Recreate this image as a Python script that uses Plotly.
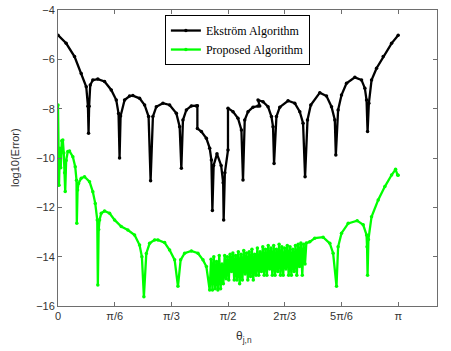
import numpy as np
import plotly.graph_objects as go

# theta_j,n given as a fraction of pi, log10 error
ekstrom_t = [0.0, 0.024, 0.0486, 0.0683, 0.083, 0.088, 0.0898, 0.0915, 0.0948, 0.1024,
             0.1171, 0.1368, 0.1566, 0.1713, 0.178, 0.181, 0.184, 0.1957, 0.2104, 0.2201,
             0.2398, 0.2546, 0.2663, 0.2722, 0.279, 0.289, 0.3084, 0.3281, 0.3479, 0.3576,
             0.3626, 0.3673, 0.3773, 0.392, 0.4067, 0.4097, 0.4097, 0.4214, 0.4361, 0.4459,
             0.4509, 0.4538, 0.4575, 0.4673, 0.4795, 0.4855, 0.487, 0.4905, 0.4997, 0.4997,
             0.5144, 0.5291, 0.5391, 0.5438, 0.5489, 0.5586, 0.5733, 0.588, 0.593, 0.588,
             0.6027, 0.6174, 0.6274, 0.6321, 0.6351, 0.6421, 0.6519, 0.6763, 0.696, 0.7107,
             0.7204, 0.7263, 0.7334, 0.7431, 0.7696, 0.7893, 0.804, 0.8137, 0.8167, 0.8234,
             0.8334, 0.8481, 0.8726, 0.8923, 0.902, 0.907, 0.91, 0.9138, 0.9217, 0.9364,
             0.9559, 0.9806, 1.0]
ekstrom_err = [-5.02, -5.35, -5.89, -6.57, -7.11, -7.9, -9.0, -7.9, -7.04, -6.84,
               -6.80, -6.90, -7.24, -7.65, -8.2, -10.0, -8.3, -7.65, -7.49, -7.47,
               -7.58, -7.85, -8.32, -10.92, -8.32, -7.92, -7.78, -7.85, -8.19, -8.73,
               -10.42, -8.46, -8.05, -7.89, -7.89, -7.88, -8.8, -8.93, -9.2, -9.6,
               -10.08, -12.13, -10.3, -9.83, -10.3, -11.0, -12.51, -10.6, -9.68, -7.98,
               -8.12, -8.39, -8.86, -10.89, -8.46, -8.12, -7.94, -7.89, -7.89, -7.65,
               -7.72, -7.92, -8.32, -8.73, -10.22, -8.32, -7.94, -7.68, -7.78, -8.12,
               -8.59, -10.76, -8.46, -7.85, -7.35, -7.49, -7.92, -8.46, -9.88, -8.05,
               -7.45, -6.97, -6.73, -6.84, -7.17, -7.65, -8.93, -7.78, -6.84, -6.36,
               -5.89, -5.35, -5.02]

proposed_t = [0.0, 0.0015, 0.003, 0.0055, 0.008, 0.0112, 0.0141, 0.017, 0.0195, 0.0212,
              0.024, 0.0288, 0.0338, 0.0436, 0.0506, 0.0544, 0.0553, 0.0575, 0.0603, 0.0683,
              0.078, 0.0927, 0.1024, 0.1095, 0.1154, 0.1171, 0.1195, 0.1221, 0.1271, 0.1368,
              0.1516, 0.1663, 0.186, 0.2054, 0.2251, 0.2398, 0.2466, 0.2525, 0.2596, 0.2693,
              0.284, 0.2937, 0.3134, 0.3281, 0.3429, 0.3526, 0.3605, 0.3723, 0.392, 0.4114,
              0.4261, 0.4361, 0.4459,
              0.450, 0.454, 0.458, 0.462, 0.466, 0.470, 0.474, 0.478, 0.482, 0.486,
              0.490, 0.494, 0.498, 0.502, 0.506, 0.510, 0.514, 0.518, 0.522, 0.526,
              0.530, 0.534, 0.538, 0.542, 0.546, 0.550, 0.554, 0.558, 0.562, 0.566,
              0.570, 0.574, 0.578, 0.582, 0.586, 0.590, 0.594, 0.598, 0.602, 0.606,
              0.610, 0.614, 0.618, 0.622, 0.626, 0.630, 0.634, 0.638, 0.642, 0.646,
              0.650, 0.654, 0.658, 0.662, 0.666, 0.670, 0.674, 0.678, 0.682, 0.686,
              0.690, 0.694, 0.698, 0.702, 0.706, 0.710, 0.714, 0.718, 0.722, 0.726,
              0.730,
              0.7401, 0.7548, 0.7793, 0.799, 0.8087, 0.8187, 0.8234, 0.8334, 0.853, 0.8794,
              0.8971, 0.907, 0.9085, 0.91, 0.9125, 0.9217, 0.9412, 0.9608, 0.9806, 0.9923,
              0.9982, 1.0]
proposed_err = [-7.85, -10.2, -11.1, -9.6, -10.4, -9.3, -9.27, -9.8, -10.6, -11.36,
                -10.1, -9.74, -9.72, -9.95, -10.35, -10.9, -12.65, -11.3, -11.03, -10.82,
                -10.76, -10.96, -11.37, -11.84, -12.51, -15.15, -12.9, -12.51, -12.24, -12.15,
                -12.24, -12.51, -12.78, -12.92, -13.12, -13.53, -14.0, -15.62, -13.87, -13.46,
                -13.32, -13.32, -13.43, -13.73, -14.13, -15.2, -14.13, -13.86, -13.77, -13.86,
                -14.13, -14.4, -15.35,
                -14.1, -15.35, -14.0, -15.3, -14.2, -15.35, -13.95, -15.3, -14.3, -15.1,
                -13.95, -14.9, -14.0, -14.95, -13.9, -14.6, -13.85, -14.95, -13.95, -14.95,
                -13.8, -15.1, -13.9, -14.95, -13.75, -14.7, -13.85, -14.95, -13.8, -14.8,
                -13.7, -14.95, -13.9, -14.75, -13.65, -14.75, -13.8, -14.6, -13.6, -14.75,
                -13.7, -14.75, -13.55, -14.5, -13.65, -14.75, -13.55, -14.75, -13.7, -14.6,
                -13.5, -14.75, -13.6, -14.75, -13.65, -14.5, -13.55, -14.75, -13.6, -14.75,
                -13.7, -14.6, -13.55, -14.75, -13.5, -14.4, -13.45, -14.75, -13.5, -14.3,
                -13.45,
                -13.4, -13.25, -13.21, -13.46, -13.86, -15.2, -13.6, -13.05, -12.65, -12.54,
                -12.71, -13.12, -13.6, -14.75, -13.3, -12.38, -11.70, -11.16, -10.69, -10.46,
                -10.69, -10.7]

tick_labels = ['0', 'π/6', 'π/3', 'π/2', '2π/3', '5π/6', 'π']
tick_frac = [0, 1/6, 1/3, 1/2, 2/3, 5/6, 1]

fig = go.Figure()
fig.add_trace(go.Scatter(x=np.array(ekstrom_t)*np.pi, y=ekstrom_err, mode='lines+markers',
                         name='Ekström Algorithm',
                         line=dict(color='black', width=2.3),
                         marker=dict(color='black', size=3.5)))
fig.add_trace(go.Scatter(x=np.array(proposed_t)*np.pi, y=proposed_err, mode='lines+markers',
                         name='Proposed Algorithm',
                         line=dict(color='#00ff00', width=2.3),
                         marker=dict(color='#00ff00', size=3.5)))

axis_style = dict(showline=True, mirror='ticks', linecolor='#6e6e6e', linewidth=1,
                  ticks='inside', ticklen=4, tickcolor='#6e6e6e', showgrid=False,
                  zeroline=False, automargin=False,
                  tickfont=dict(family='Liberation Sans', size=11, color='#333'))

fig.update_xaxes(range=[0, 3.5], tickvals=np.array(tick_frac)*np.pi, ticktext=tick_labels,
                 **axis_style)
fig.update_yaxes(range=[-16, -4], tickvals=[-16, -14, -12, -10, -8, -6, -4], **axis_style)

# axis titles placed by hand (MATLAB-like spacing)
fig.add_annotation(text='log10(Error)', xref='paper', yref='paper', x=0, y=0.5,
                   xanchor='center', yanchor='middle', xshift=-43, textangle=-90,
                   showarrow=False, font=dict(family='Liberation Sans', size=11, color='#333'))
fig.add_annotation(text='θ<sub>j,n</sub>', xref='paper', yref='paper', x=0.49, y=0,
                   xanchor='center', yanchor='middle', yshift=-31,
                   showarrow=False, font=dict(family='Liberation Sans', size=12, color='#333'))

fig.update_layout(
    width=451, height=351,
    margin=dict(l=58, r=14, t=10, b=45),
    paper_bgcolor='white', plot_bgcolor='white',
    legend=dict(x=0.282, y=0.983, xanchor='left', yanchor='top',
                bordercolor='black', borderwidth=1, bgcolor='white',
                font=dict(family='Liberation Serif', size=12, color='black'),
                tracegroupgap=0, itemwidth=30),
    showlegend=True
)
fig.write_html("out.html", config={'displayModeBar': False},
               post_script="document.body.style.margin='0';")
